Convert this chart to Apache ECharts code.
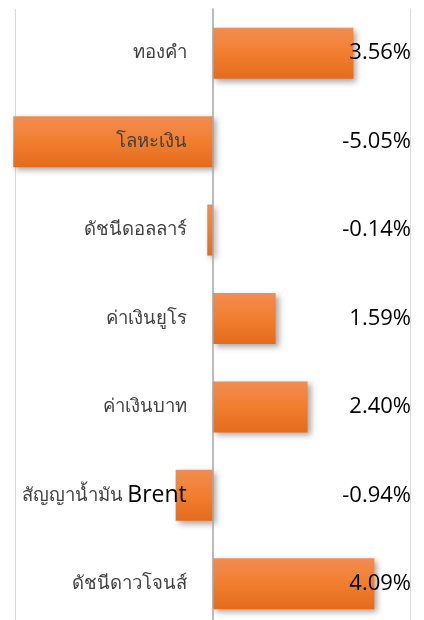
<!DOCTYPE html>
<html>
<head>
<meta charset="utf-8">
<script src="https://cdn.jsdelivr.net/npm/echarts@6/dist/echarts.min.js"></script>
<style>
html,body{margin:0;padding:0;background:#fff;}
#c{width:424px;height:620px;}
</style>
</head>
<body>
<div id="c"></div>
<script>
const categories = ['ทองคำ', 'โลหะเงิน', 'ดัชนีดอลลาร์', 'ค่าเงินยูโร', 'ค่าเงินบาท', 'สัญญาน้ำมัน Brent', 'ดัชนีดาวโจนส์'];
const values = [3.56, -5.05, -0.14, 1.59, 2.40, -0.94, 4.09];
const gridLineValues = [-5, 5];
const valueLabels = values.map(v => v.toFixed(2) + '%');

const chart = echarts.init(document.getElementById('c'), null, {renderer: 'canvas'});
chart.setOption({
  animation: false,
  backgroundColor: '#ffffff',
  grid: {left: 0, right: 0, top: 9, bottom: -8, containLabel: false, outerBoundsMode: 'none'},
  xAxis: {
    type: 'value',
    min: -5.387,
    max: 5.347,
    axisLine: {show: false},
    axisTick: {show: false},
    axisLabel: {show: false},
    splitLine: {show: false}
  },
  yAxis: [{
    type: 'category',
    inverse: true,
    data: categories,
    z: 10,
    position: 'left',
    offset: -212.8,
    axisLine: {show: true, onZero: false, lineStyle: {color: '#a6a6a6', width: 1.5}},
    axisTick: {show: false},
    axisLabel: {
      margin: 26,
      color: '#404040',
      fontSize: 18.5,
      fontFamily: '"Noto Sans", "DejaVu Sans", sans-serif',
      formatter: function (v) {
        return v.replace(/([A-Za-z]+)/g, '{en|$1}');
      },
      rich: {
        en: {color: '#000000', fontSize: 23, fontFamily: '"Open Sans", sans-serif'}
      }
    }
  }, {
    type: 'category',
    inverse: true,
    position: 'right',
    data: valueLabels,
    axisLine: {show: false},
    axisTick: {show: false},
    axisLabel: {
      inside: true,
      margin: 13,
      color: '#000000',
      fontSize: 22,
      padding: [4, 0, 0, 0],
      fontFamily: '"Open Sans", sans-serif'
    },
    z: 10
  }],
  series: [{
    type: 'bar',
    data: values,
    barWidth: 51,
    z: 3,
    itemStyle: {
      color: new echarts.graphic.LinearGradient(0, 0, 0, 1, [
        {offset: 0, color: '#f28c52'},
        {offset: 0.5, color: '#f17e2e'},
        {offset: 1, color: '#e46b1d'}
      ]),
      shadowColor: 'rgba(0,0,0,0.35)',
      shadowBlur: 6,
      shadowOffsetX: 3,
      shadowOffsetY: 3
    },
    markLine: {
      silent: true,
      z: 1,
      symbol: 'none',
      label: {show: false},
      lineStyle: {color: '#d9d9d9', width: 1, type: 'solid'},
      data: gridLineValues.map(v => ({xAxis: v}))
    }
  }]
});
</script>
</body>
</html>
